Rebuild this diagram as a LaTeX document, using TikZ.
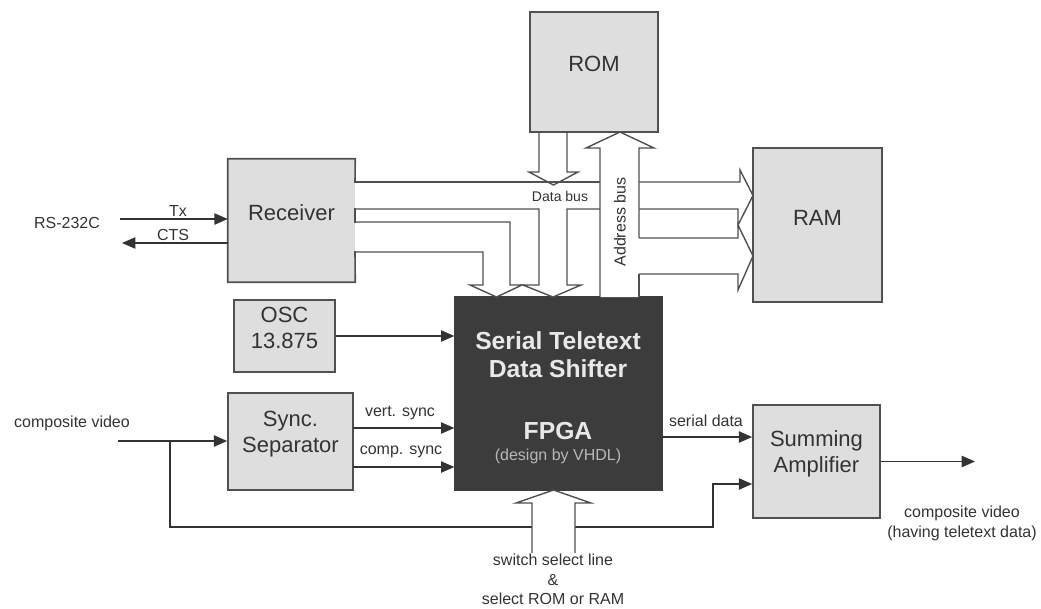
\documentclass[tikz,border=0pt]{standalone}
\usepackage{fontspec}
\setmainfont{Liberation Sans}
\usetikzlibrary{arrows.meta,fit,calc}
\definecolor{boxfillc}{HTML}{DEDEDE}
\definecolor{edgec}{HTML}{505050}
\definecolor{inkc}{HTML}{333333}
\definecolor{fpgac}{HTML}{3C3C3C}
\definecolor{ftextc}{HTML}{E8E8E8}
\definecolor{fsubc}{HTML}{B8B8B8}
\newcommand\mybigfont{\fontsize{16.5}{19.5}\selectfont}
\newcommand\mysmallfont{\fontsize{12}{15}\selectfont}
\begin{document}
\begin{tikzpicture}[x=0.75pt,y=-0.75pt,
  boxfill/.style={fill=boxfillc, inner sep=0pt, align=center, text=inkc, font=\mybigfont},
  box/.style={boxfill, draw=edgec, line width=1.2pt},
  boxedge/.style={draw=edgec, line width=1.2pt, line cap=rect},
  sig/.style={draw=inkc, line width=1pt, -{Triangle[length=10pt,width=8.5pt]}},
  wire/.style={draw=inkc, line width=1pt},
  bus/.style={draw=edgec, line width=1.05pt, line join=miter},
  lbl/.style={text=inkc, font=\mysmallfont, inner sep=0pt, align=center},
  ftxt/.style={text=ftextc, font=\fontsize{18.5}{21}\selectfont\bfseries, inner sep=0pt},
  ftxtsub/.style={text=fsubc, font=\mysmallfont, inner sep=0pt},
]
\useasboundingbox (0,0) rectangle (1041,608);

% ---------- boxes ----------
\node[box, fit={(530,12)(658,132)}] (rom) {ROM};
\node[box, fit={(753,148)(882,302)}] (ram) {RAM};
\node[boxfill, fit={(228,159)(355,282)}] (rec) {Receiver};
\node[box, fit={(234,300)(335,372)}] (osc) {OSC\\13.875};
\node[box, fit={(228,393)(353,490)}] (sync) {Sync.\\Separator};
\node[box, fit={(753,405)(880,518)}] (sum) {Summing\\Amplifier};
\node[fill=fpgac, draw=fpgac, line width=1pt, inner sep=0pt, fit={(455,297)(662,490)}] (fpga) {};

\node[ftxt] (ft1) at (558,341) {Serial Teletext};
\node[ftxt] (ft2) at (558,369) {Data Shifter};
\node[ftxt] (ft3) at (558,431) {FPGA};
\node[ftxtsub] (ft4) at (558,456) {(design by VHDL)};

% receiver border with bus openings
\coordinate (d1) at (355,182);
\coordinate (d2) at (355,209);
\coordinate (d3) at (355,222);
\coordinate (d4) at (355,252);
\draw[boxedge] (d1) -- (rec.north east) -- (rec.north west) -- (rec.south west) -- (rec.south east) -- (d4);
\draw[boxedge] (d2) -- (d3);

% ---------- data bus ----------
\draw[bus] (d1) -- (600,182);
\draw[bus] (d2) -- (539,209) -- (539,285) -- (523,285) -- (553,297) -- (581,285) -- (567,285) -- (567,209) -- (600,209);
\draw[bus] (d3) -- (510,222) -- (510,285) -- (522,285) -- (496.5,297) -- (470,285) -- (483,285) -- (483,252) -- (d4);
% ROM to data bus
\draw[bus] (539,132) -- (539,172) -- (529,172) -- (553.5,185) -- (578,172) -- (567,172) -- (567,132);
% data bus and address bus into RAM
\draw[bus] (639,182) -- (740,182) -- (740,170) -- (753,195.5) -- (738,225) -- (738,209) -- (639,209);
\draw[bus] (639,238) -- (738,238) -- (738,225) -- (753,256) -- (738,290) -- (738,274) -- (639,274);
% address bus (over the data bus)
\fill[white] (600,297) -- (600,148) -- (586,148) -- (620,132) -- (654,148) -- (639,148) -- (639,297) -- cycle;
\draw[bus] (600,297) -- (600,148) -- (586,148) -- (620,132) -- (654,148) -- (639,148) -- (639,238);
\draw[bus] (639,274) -- (639,297);

\node[lbl, font=\fontsize{10.5}{12}\selectfont] (dbl) at (560,196) {Data bus};
\node[lbl, rotate=90] (abl) at (620,222) {Address bus};

% ---------- RS-232C ----------
\node[lbl] (rs) at (67,223) {RS-232C};
\coordinate (txs) at (120,219);
\coordinate (ctse) at (122,243);
\draw[sig] (txs) -- (txs -| rec.west);
\draw[sig] (ctse -| rec.west) -- (ctse);
\node[lbl] (txl) at (178,211) {Tx};
\node[lbl] (ctsl) at (173,235) {CTS};

% ---------- OSC ----------
\draw[sig] (osc) -- (osc -| fpga.west);

% ---------- sync separator ----------
\node[lbl] (cvl) at (72,423) {composite video};
\coordinate (cvin) at (118,441);
\coordinate (br) at (170,441);
\draw[sig] (cvin) -- (cvin -| sync.west);
\coordinate (vs) at (353,428);
\coordinate (cs) at (353,467);
\draw[sig] (vs) -- (vs -| fpga.west);
\draw[sig] (cs) -- (cs -| fpga.west);
\node[lbl] (vsl) at (400,413) {vert. sync};
\node[lbl] (csl) at (401,452) {comp. sync};

% composite video bypass to summing amplifier
\coordinate (sa2) at (713,484);
\draw[sig] (br) -- (170,527) -- (713,527) -- (sa2) -- (sa2 -| sum.west);

% switch select arrow (over the bypass line)
\filldraw[bus, fill=white] (532,553) -- (532,503) -- (516,503) -- (553.5,490) -- (591,503) -- (575,503) -- (575,553);
\node[lbl] (sw1) at (553,560) {switch select line};
\node[lbl] (sw2) at (553,580) {\&};
\node[lbl] (sw3) at (553,599) {select ROM or RAM};

% ---------- serial data / output ----------
\coordinate (sd) at (662,437);
\draw[sig] (sd) -- (sd -| sum.west);
\node[lbl] (sdl) at (706,421) {serial data};
\coordinate (outend) at (975,461.5);
\draw[sig] (sum) -- (outend);
\node[lbl] (outl) at (962,523) {composite video\\(having teletext data)};
\end{tikzpicture}
\end{document}
